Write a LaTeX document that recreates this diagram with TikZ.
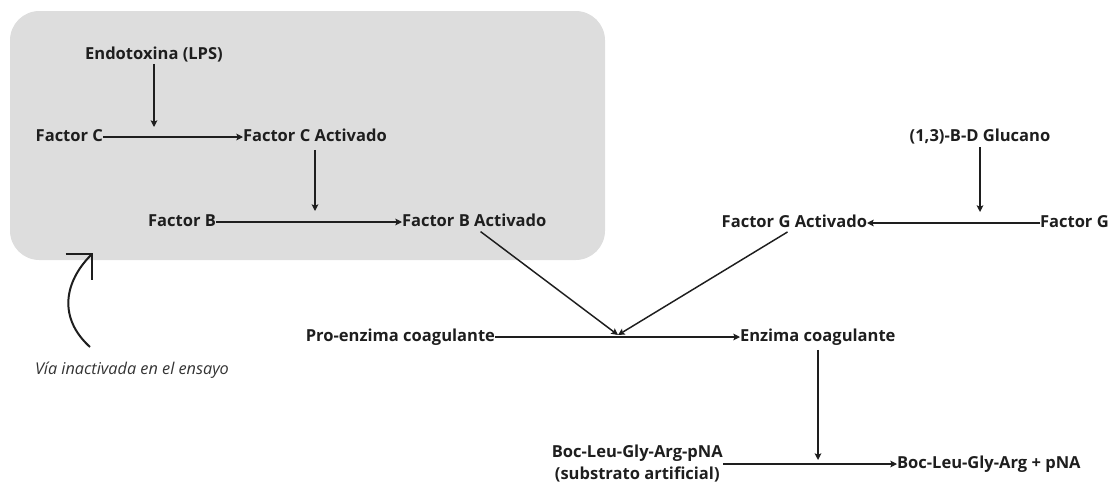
\documentclass[tikz,border=0pt]{standalone}
\usepackage{fontspec}
\setmainfont{Open Sans}
\usetikzlibrary{arrows.meta, positioning}
\definecolor{panelgray}{HTML}{DDDDDD}
\definecolor{inkdark}{HTML}{1E1E1E}

\begin{document}
\begin{tikzpicture}[
            x=0.75pt, y=-0.75pt,
            lbl/.style={inner sep=0pt, outer sep=0pt, text height=0.72em, text depth=0pt, font=\fontsize{12.4pt}{14pt}\selectfont\bfseries, text=inkdark},
            arrow/.style={-{Stealth[length=5pt, width=5pt, inset=1pt]}, line width=1.1pt, color=inkdark},
            link/.style={line width=1.1pt, color=inkdark}
        ]
        \useasboundingbox (0,0) rectangle (1109,482);

        % Grey panel: inactive pathway
        \fill[panelgray, rounded corners=22pt] (10,11) rectangle (605,260);

        % Stage 1: Factor C
        \node[lbl] (endo) at (154,55) {Endotoxina (LPS)};
        \node[lbl, anchor=east] (fc) at (103,137) {Factor C};
        \node[lbl, right=105pt of fc] (fca) {Factor C Activado};
        \coordinate (jC) at (154,127);
        \draw[arrow] (fc) -- (fca);
        \draw[arrow, shorten <=3pt] (endo.south) -- (jC);

        % Stage 2: Factor B
        \node[lbl, anchor=east] (fb) at (216,222) {Factor B};
        \node[lbl, right=139.5pt of fb] (fba) {Factor B Activado};
        \coordinate (jB) at (315,211);
        \draw[arrow] (fb) -- (fba);
        \draw[arrow, shorten <=6pt] (fca.south -| jB) -- (jB);

        % Stage 3: Factor G
        \node[lbl] (gluc) at (980,137) {(1,3)-B-D Glucano};
        \node[lbl, anchor=west] (fg) at (1040,223) {Factor G};
        \node[lbl, left=129.75pt of fg] (fga) {Factor G Activado};
        \coordinate (jG) at (980,212);
        \draw[arrow] (fg) -- (fga);
        \draw[arrow, shorten <=4pt] (gluc.south) -- (jG);

        % Stage 4: Coagulation enzyme
        \node[lbl, anchor=east] (pro) at (495,337) {Pro-enzima coagulante};
        \node[lbl, right=183.75pt of pro] (enz) {Enzima coagulante};
        \coordinate (jP) at (618,335);
        \draw[arrow] (pro) -- (enz);
        \draw[arrow, shorten <=6pt] (fba.south) -- (jP);
        \draw[arrow, shorten <=6pt] (fga.south) -- (jP);

        % Stage 5: Chromogenic substrate
        \node[font=\fontsize{12.4pt}{16.5pt}\selectfont\bfseries, text=inkdark, align=center, inner sep=0pt, anchor=east] (sub) at (723,464) {Boc-Leu-Gly-Arg-pNA\\(substrato artificial)};
        \node[lbl, right=130.5pt of sub.east, anchor=west] (prod) {Boc-Leu-Gly-Arg + pNA};
        \coordinate (jE) at (818,460);
        \draw[arrow] (sub.east |- prod) -- (prod);
        \draw[arrow, shorten <=6pt] (enz.south -| jE) -- (jE);

        % Note on the inactive pathway
        \draw[line width=1.5pt, color=inkdark, -{Straight Barb[length=14pt, width=28pt]}]
            (90,347) .. controls (58,318) and (64,282) .. (93,253);
        \node[font=\fontsize{12.2pt}{14pt}\selectfont\itshape, text=black!80, inner sep=0pt] (note) at (132,370) {Vía inactivada en el ensayo};

    \end{tikzpicture}
\end{document}
